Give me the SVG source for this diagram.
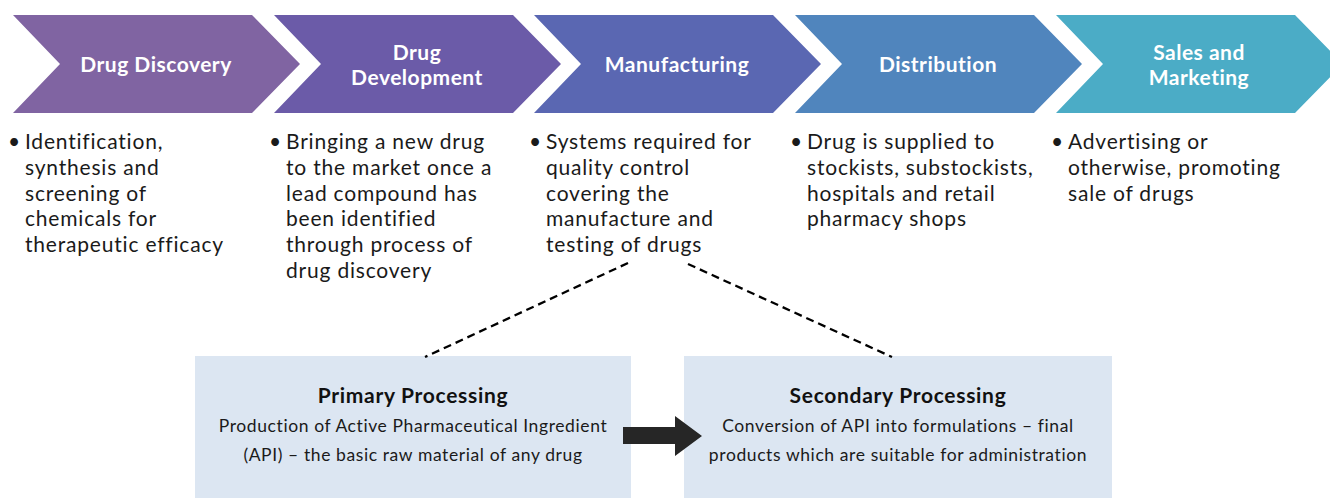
<svg xmlns="http://www.w3.org/2000/svg" width="1330" height="498" viewBox="0 0 1330 498">
  <style>
    .stage-label { font-family: Lato, "Liberation Sans", sans-serif; font-weight: bold; font-size: 21px; letter-spacing: 0.5px; fill: #ffffff; text-anchor: middle; }
    .bullet { font-family: Lato, "Liberation Sans", sans-serif; font-size: 21px; letter-spacing: 0.8px; fill: #1a1a1a; }
    .box { fill: #dce6f2; }
    .box-title { font-family: Lato, "Liberation Sans", sans-serif; font-weight: bold; font-size: 21px; letter-spacing: 0.7px; fill: #111111; text-anchor: middle; }
    .box-text { font-family: Lato, "Liberation Sans", sans-serif; font-size: 17.5px; letter-spacing: 0.6px; fill: #1a1a1a; text-anchor: middle; }
    .dashed { stroke: #000000; stroke-width: 2.3; stroke-dasharray: 8 5; fill: none; }
  </style>

  <!-- Pipeline stages -->
  <g id="stage-discovery">
    <path d="M13,15 L252,15 L300,64 L252,113 L13,113 L60,64 Z" fill="#8064a2"/>
    <text class="stage-label" x="156" y="72">Drug Discovery</text>
  </g>
  <g id="stage-development">
    <path d="M274,15 L513,15 L561,64 L513,113 L274,113 L321,64 Z" fill="#6b5ba8"/>
    <text class="stage-label" x="417" y="60">Drug</text>
    <text class="stage-label" x="417" y="85">Development</text>
  </g>
  <g id="stage-manufacturing">
    <path d="M534,15 L773,15 L821,64 L773,113 L534,113 L581,64 Z" fill="#5a67b2"/>
    <text class="stage-label" x="677" y="72">Manufacturing</text>
  </g>
  <g id="stage-distribution">
    <path d="M795,15 L1034,15 L1082,64 L1034,113 L795,113 L842,64 Z" fill="#5085bd"/>
    <text class="stage-label" x="938" y="72">Distribution</text>
  </g>
  <g id="stage-sales">
    <path d="M1056,15 L1295,15 L1343,64 L1295,113 L1056,113 L1103,64 Z" fill="#4bacc6"/>
    <text class="stage-label" x="1199" y="60">Sales and</text>
    <text class="stage-label" x="1199" y="85">Marketing</text>
  </g>

  <!-- Stage descriptions -->
  <g id="desc-discovery" class="bullet">
    <text x="8" y="149">•</text>
    <text x="25" y="149">Identification,</text>
    <text x="25" y="175">synthesis and</text>
    <text x="25" y="201">screening of</text>
    <text x="25" y="226">chemicals for</text>
    <text x="25" y="252">therapeutic efficacy</text>
  </g>
  <g id="desc-development" class="bullet">
    <text x="269" y="149">•</text>
    <text x="286" y="149">Bringing a new drug</text>
    <text x="286" y="175">to the market once a</text>
    <text x="286" y="201">lead compound has</text>
    <text x="286" y="226">been identified</text>
    <text x="286" y="252">through process of</text>
    <text x="286" y="278">drug discovery</text>
  </g>
  <g id="desc-manufacturing" class="bullet">
    <text x="529" y="149">•</text>
    <text x="546" y="149">Systems required for</text>
    <text x="546" y="175">quality control</text>
    <text x="546" y="201">covering the</text>
    <text x="546" y="226">manufacture and</text>
    <text x="546" y="252">testing of drugs</text>
  </g>
  <g id="desc-distribution" class="bullet">
    <text x="790" y="149">•</text>
    <text x="807" y="149">Drug is supplied to</text>
    <text x="807" y="175">stockists, substockists,</text>
    <text x="807" y="201">hospitals and retail</text>
    <text x="807" y="226">pharmacy shops</text>
  </g>
  <g id="desc-sales" class="bullet">
    <text x="1051" y="149">•</text>
    <text x="1068" y="149">Advertising or</text>
    <text x="1068" y="175">otherwise, promoting</text>
    <text x="1068" y="201">sale of drugs</text>
  </g>

  <!-- Manufacturing breakdown -->
  <g id="primary-processing">
    <rect class="box" x="195" y="356" width="436" height="142"/>
    <text class="box-title" x="413" y="403">Primary Processing</text>
    <text class="box-text" x="413" y="432">Production of Active Pharmaceutical Ingredient</text>
    <text class="box-text" x="413" y="461">(API) – the basic raw material of any drug</text>
  </g>
  <g id="secondary-processing">
    <rect class="box" x="684" y="356" width="428" height="142"/>
    <text class="box-title" x="898" y="403">Secondary Processing</text>
    <text class="box-text" x="898" y="432">Conversion of API into formulations – final</text>
    <text class="box-text" x="898" y="461">products which are suitable for administration</text>
  </g>

  <!-- Connectors -->
  <g id="connectors">
    <path class="dashed" d="M628,263 L425,357"/>
    <path class="dashed" d="M688,264 L892,357"/>
    <path d="M623,427 L675,427 L675,416 L702,436 L675,456 L675,444 L623,444 Z" fill="#262626"/>
  </g>
</svg>
